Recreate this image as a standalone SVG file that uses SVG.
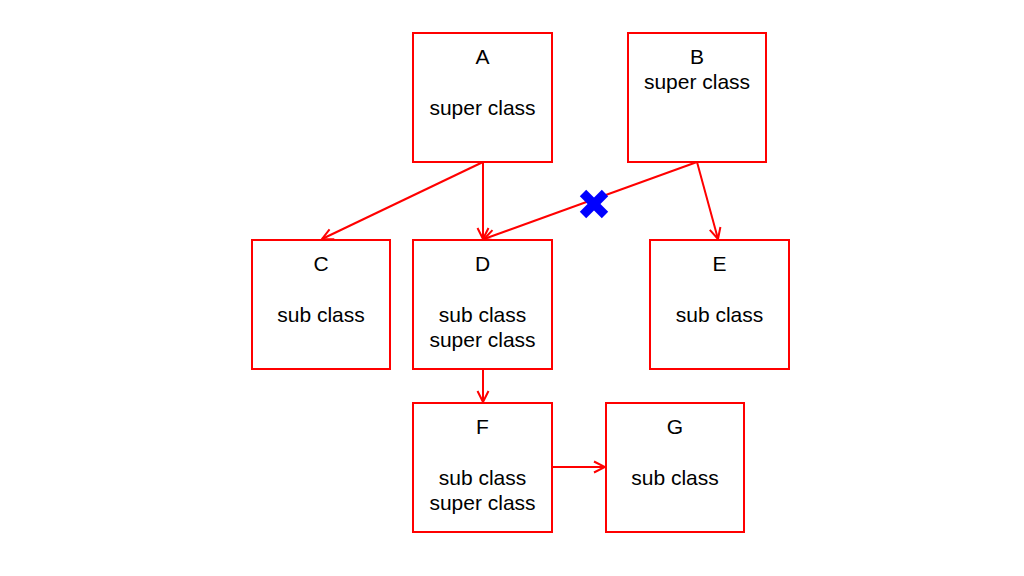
<svg xmlns="http://www.w3.org/2000/svg" width="1024" height="576" viewBox="0 0 1024 576">
<style>
.box{fill:#fff;stroke:#ff0000;stroke-width:2}
.t{font-family:"Liberation Sans",Arial,sans-serif;font-size:21px;fill:#000;text-anchor:middle}
.c{stroke:#ff0000;stroke-width:2;fill:none}
</style>
<defs>
<marker id="ah" markerUnits="userSpaceOnUse" markerWidth="14" markerHeight="14" viewBox="0 0 14 14" refX="12" refY="7" orient="auto">
<path d="M1,1.5 L12,7 L1,12.5" fill="none" stroke="#ff0000" stroke-width="2"/>
</marker>
</defs>
<rect width="1024" height="576" fill="#fff"/>
<g id="connectors">
<line class="c" x1="483" y1="162" x2="322" y2="239" marker-end="url(#ah)"/>
<line class="c" x1="483" y1="162" x2="483" y2="239" marker-end="url(#ah)"/>
<line class="c" x1="697" y1="162" x2="484" y2="239" marker-end="url(#ah)"/>
<line class="c" x1="697" y1="162" x2="718" y2="239" marker-end="url(#ah)"/>
<line class="c" x1="483" y1="369" x2="483" y2="402" marker-end="url(#ah)"/>
<line class="c" x1="552" y1="467" x2="605" y2="467" marker-end="url(#ah)"/>
</g>
<g id="cross">
<line x1="583" y1="193" x2="605" y2="215" stroke="#0000ff" stroke-width="9"/>
<line x1="605" y1="193" x2="583" y2="215" stroke="#0000ff" stroke-width="9"/>
</g>
<g id="A">
<rect class="box" x="413" y="33" width="139" height="129"/>
<text class="t" x="482.5" y="64">A</text>
<text class="t" x="482.5" y="115">super class</text>
</g>
<g id="B">
<rect class="box" x="628" y="33" width="138" height="129"/>
<text class="t" x="697" y="64">B</text>
<text class="t" x="697" y="89">super class</text>
</g>
<g id="C">
<rect class="box" x="252" y="240" width="138" height="129"/>
<text class="t" x="321" y="271">C</text>
<text class="t" x="321" y="322">sub class</text>
</g>
<g id="D">
<rect class="box" x="413" y="240" width="139" height="129"/>
<text class="t" x="482.5" y="271">D</text>
<text class="t" x="482.5" y="322">sub class</text>
<text class="t" x="482.5" y="347">super class</text>
</g>
<g id="E">
<rect class="box" x="650" y="240" width="139" height="129"/>
<text class="t" x="719.5" y="271">E</text>
<text class="t" x="719.5" y="322">sub class</text>
</g>
<g id="F">
<rect class="box" x="413" y="403" width="139" height="129"/>
<text class="t" x="482.5" y="434">F</text>
<text class="t" x="482.5" y="485">sub class</text>
<text class="t" x="482.5" y="510">super class</text>
</g>
<g id="G">
<rect class="box" x="606" y="403" width="138" height="129"/>
<text class="t" x="675" y="434">G</text>
<text class="t" x="675" y="485">sub class</text>
</g>
</svg>
